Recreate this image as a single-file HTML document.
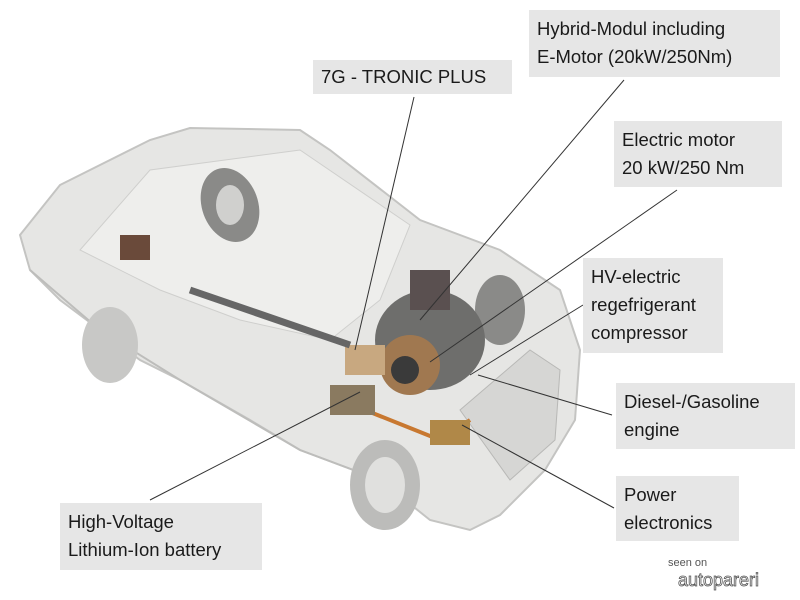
<!DOCTYPE html>
<html><head><meta charset="utf-8"><style>
body{margin:0;width:800px;height:600px;background:#fff;overflow:hidden;position:relative;font-family:"Liberation Sans",sans-serif}
.l{position:absolute;background:#e6e6e6;color:#1a1a1a;font-size:18.5px;line-height:28px;padding:5px 8px;box-sizing:border-box}
svg{position:absolute;left:0;top:0}
</style></head><body>
<svg width="800" height="600">
<path d="M20,235 L60,185 L150,140 L190,128 L300,130 L330,150 L420,220 L500,250 L560,290 L580,350 L575,420 L545,470 L500,515 L470,530 L430,520 L380,480 L300,450 L250,420 L180,380 L140,360 L100,330 L60,300 L30,270 Z" fill="#e6e6e4" stroke="#c4c4c2" stroke-width="2"/>
<path d="M80,250 L150,170 L300,150 L410,225 L380,300 L330,340 L240,320 L160,290 Z" fill="#eeeeec" stroke="#cfcfcd"/>
<path d="M30,270 L100,330 L180,380 L300,450 L380,480" fill="none" stroke="#bdbdbb" stroke-width="2"/>
<path d="M460,410 L530,350 L560,370 L555,440 L510,480 Z" fill="#d6d6d4" stroke="#b8b8b6"/>
<ellipse cx="230" cy="205" rx="28" ry="38" fill="#8a8a88" transform="rotate(-20 230 205)"/>
<ellipse cx="230" cy="205" rx="14" ry="20" fill="#d0d0ce"/>
<ellipse cx="110" cy="345" rx="28" ry="38" fill="#c8c8c6"/>
<ellipse cx="385" cy="485" rx="35" ry="45" fill="#bcbcba"/>
<ellipse cx="385" cy="485" rx="20" ry="28" fill="#e0e0de"/>
<ellipse cx="500" cy="310" rx="25" ry="35" fill="#8a8a88"/>
<ellipse cx="430" cy="340" rx="55" ry="50" fill="#6e6e6c"/>
<ellipse cx="410" cy="365" rx="30" ry="30" fill="#a07850"/>
<circle cx="405" cy="370" r="14" fill="#3a3a3a"/>
<rect x="410" y="270" width="40" height="40" fill="#5a5050"/>
<rect x="345" y="345" width="40" height="30" fill="#c8a880"/>
<path d="M190,290 L350,345" stroke="#666" stroke-width="7"/>
<path d="M340,400 L440,440 L470,420" stroke="#c87830" stroke-width="4" fill="none"/>
<rect x="330" y="385" width="45" height="30" fill="#8a7a60"/>
<rect x="430" y="420" width="40" height="25" fill="#b08848"/>
<rect x="120" y="235" width="30" height="25" fill="#6a4a3a"/>
<g stroke="#333" stroke-width="1">
<line x1="414" y1="97" x2="355" y2="350"/>
<line x1="624" y1="80" x2="420" y2="320"/>
<line x1="677" y1="190" x2="430" y2="362"/>
<line x1="583" y1="305" x2="470" y2="375"/>
<line x1="612" y1="415" x2="478" y2="375"/>
<line x1="614" y1="508" x2="462" y2="425"/>
<line x1="150" y1="500" x2="360" y2="392"/>
</g>
<text x="668" y="566" font-size="11" fill="#555" font-family="Liberation Sans">seen on</text>
<text x="678" y="586" font-size="18" fill="#fff" stroke="#555" stroke-width="0.8" font-family="Liberation Sans">autopareri</text>
</svg>
<div class="l" style="left:529px;top:10px;width:251px;height:67px">Hybrid-Modul including<br>E-Motor (20kW/250Nm)</div>
<div class="l" style="left:313px;top:60px;width:199px;height:34px;line-height:24px">7G - TRONIC PLUS</div>
<div class="l" style="left:614px;top:121px;width:168px;height:66px">Electric motor<br>20 kW/250 Nm</div>
<div class="l" style="left:583px;top:258px;width:140px;height:95px">HV-electric<br>regefrigerant<br>compressor</div>
<div class="l" style="left:616px;top:383px;width:179px;height:66px">Diesel-/Gasoline<br>engine</div>
<div class="l" style="left:616px;top:476px;width:123px;height:65px">Power<br>electronics</div>
<div class="l" style="left:60px;top:503px;width:202px;height:67px">High-Voltage<br>Lithium-Ion battery</div>
</body></html>
